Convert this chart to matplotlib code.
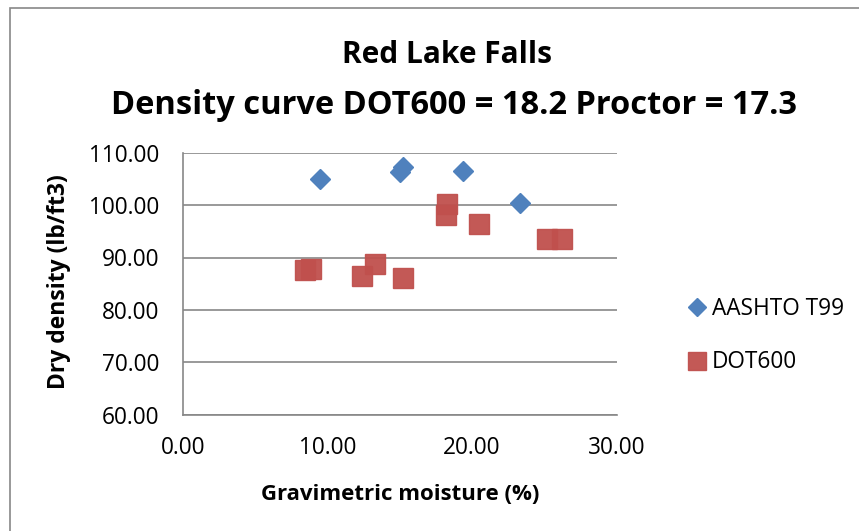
import matplotlib
matplotlib.use("Agg")
import matplotlib.pyplot as plt
from matplotlib.patches import Rectangle

# data
aashto_moisture = [9.5, 15.0, 15.2, 19.4, 23.3]
aashto_density = [104.9, 106.3, 107.3, 106.6, 100.4]

dot600_moisture = [8.45, 8.9, 12.4, 13.3, 15.2, 18.2, 18.3, 20.5, 25.15, 26.2]
dot600_density = [87.6, 87.9, 86.5, 88.8, 86.1, 98.1, 100.3, 96.4, 93.5, 93.6]

x_ticks = [0, 10, 20, 30]
y_ticks = [60, 70, 80, 90, 100, 110]

title1 = "Red Lake Falls"
title2 = "Density curve DOT600 = 18.2 Proctor = 17.3"

plt.rcParams['font.family'] = ['Open Sans', 'DejaVu Sans']

W, H = 859, 531
fig = plt.figure(figsize=(W / 100, H / 100), dpi=100)
ax = fig.add_axes([182.7 / W, 1 - 414.7 / H, (616.7 - 182.7) / W, (414.7 - 152.7) / H])

blue = "#4F81BD"
red = "#C0504D"
grey = "#878787"

ax.plot(aashto_moisture, aashto_density, linestyle="none", marker="D",
        markersize=10.5, color=blue, markeredgecolor=blue, label="AASHTO T99", zorder=3)
ax.plot(dot600_moisture, dot600_density, linestyle="none", marker="s",
        markersize=13.9, color=red, markeredgecolor=red, alpha=0.95, label="DOT600", zorder=3)

ax.set_xlim(0, 30)
ax.set_ylim(60, 110)
ax.set_xticks(x_ticks)
ax.set_yticks(y_ticks)
ax.set_xticklabels([f"{v:.2f}" for v in x_ticks])
ax.set_yticklabels([f"{v:.2f}" for v in y_ticks])
ax.tick_params(length=0, labelsize=16.3, colors="black")
ax.tick_params(axis="x", pad=15)
ax.tick_params(axis="y", pad=17)

ax.grid(axis="y", color=grey, linewidth=1.2)
ax.set_axisbelow(True)
for side in ["top", "right"]:
    ax.spines[side].set_visible(False)
for side in ["left", "bottom"]:
    ax.spines[side].set_color(grey)
    ax.spines[side].set_linewidth(1.2)

fig.text(447 / W, 1 - 63 / H, title1, ha="center", va="baseline",
         fontsize=21.5, fontweight="bold")
fig.text(454 / W, 1 - 114 / H, title2, ha="center", va="baseline",
         fontsize=23.5, fontweight="bold")
fig.text(400 / W, 1 - 500 / H, "Gravimetric moisture (%)", ha="center", va="baseline",
         fontsize=16, fontweight="bold")
fig.text(65 / W, 1 - 281.5 / H, "Dry density (lb/ft3)", ha="center", va="baseline",
         rotation=90, rotation_mode="anchor", fontsize=16.5, fontweight="bold")

leg = ax.legend(loc="upper left", bbox_to_anchor=(688 / W, 1 - 297 / H),
                bbox_transform=fig.transFigure, frameon=False, fontsize=16.3,
                handlelength=0.8, handletextpad=0.25, labelspacing=1.3,
                borderpad=0, borderaxespad=0)
leg.legend_handles[0].set_markersize(8.7)
leg.legend_handles[1].set_markersize(13.5)

fig.patches.append(Rectangle((10 / W, -0.5), 2, 1.5 - 7.5 / H, transform=fig.transFigure,
                             fill=False, edgecolor=grey, linewidth=1.2))

fig.savefig("out.png", dpi=100)
